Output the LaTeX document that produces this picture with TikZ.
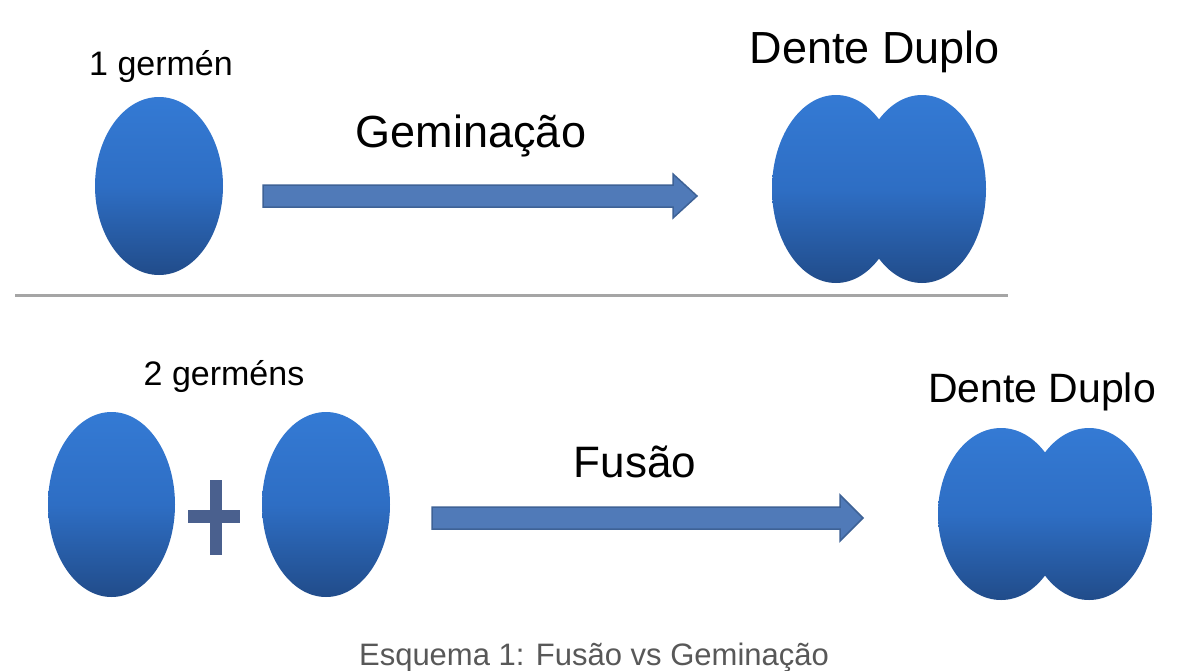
\documentclass[tikz,border=0pt]{standalone}
\usepackage{fontspec}
\setmainfont{Liberation Sans}
\usetikzlibrary{shapes.geometric}
\definecolor{toothtop}{RGB}{52,122,212}
\definecolor{toothmid}{RGB}{46,110,196}
\definecolor{toothbot}{RGB}{33,76,138}
\definecolor{arrowfill}{RGB}{80,122,184}
\definecolor{arrowline}{RGB}{62,98,150}
\definecolor{plusc}{RGB}{74,96,142}
\definecolor{capgray}{RGB}{88,88,88}
\definecolor{rulegray}{RGB}{165,165,165}
\tikzset{
  tooth/.style={ellipse, inner sep=0pt, top color=toothtop, bottom color=toothbot, middle color=toothmid, draw=none},
  blockarrow/.style={fill=arrowfill, draw=arrowline, line width=1.5pt, line join=miter},
  lbl/.style={anchor=base, inner sep=0pt, text=black},
}
\newcommand{\fs}[1]{\fontsize{#1}{#1}\selectfont}
\begin{document}
\begin{tikzpicture}[x=1pt,y=-1pt]
\useasboundingbox[fill=white] (0,0) rectangle (1179,670);

% top row
\node[lbl] (t1) at (161,75) {\fs{34}1 germén};
\node[tooth, minimum width=128pt, minimum height=178pt] (g1) at (159,186) {};
\node[lbl] (gem) at (471,147) {\fs{45}Geminação};
\draw[blockarrow] (263,185) -- (673,185) -- (673,174) -- (697,196) -- (673,218) -- (673,207) -- (263,207) -- cycle;
\node[lbl] (dd1) at (875,63) {\fs{45}Dente Duplo};
\node[tooth, minimum width=128pt, minimum height=188pt] (d1a) at (836,189) {};
\node[tooth, minimum width=128pt, minimum height=188pt] (d1b) at (922,189) {};

% separator
\draw[rulegray, line width=3pt] (15,295) -- (1008,295);

% bottom row
\node[lbl] (t2) at (224,385) {\fs{34}2 germéns};
\node[tooth, minimum width=127pt, minimum height=185pt] (g2a) at (111.5,504.5) {};
\node[tooth, minimum width=128pt, minimum height=185pt] (g2b) at (326,504.5) {};
\draw[plusc, line width=12pt] (216,480) -- (216,555);
\draw[plusc, line width=13pt] (188,516.5) -- (240,516.5);
\node[lbl] (fus) at (635,477) {\fs{44}Fusão};
\draw[blockarrow] (432,507) -- (840,507) -- (840,495) -- (863,518) -- (840,541) -- (840,529) -- (432,529) -- cycle;
\node[lbl] (dd2) at (1042,402) {\fs{41}Dente Duplo};
\node[tooth, minimum width=126pt, minimum height=172pt] (d2a) at (1001,514) {};
\node[tooth, minimum width=126pt, minimum height=172pt] (d2b) at (1089,514) {};

% caption
\node[lbl, text=capgray] (cap) at (594,665) {\fs{31}Esquema 1: Fusão vs Geminação};
\end{tikzpicture}
\end{document}
